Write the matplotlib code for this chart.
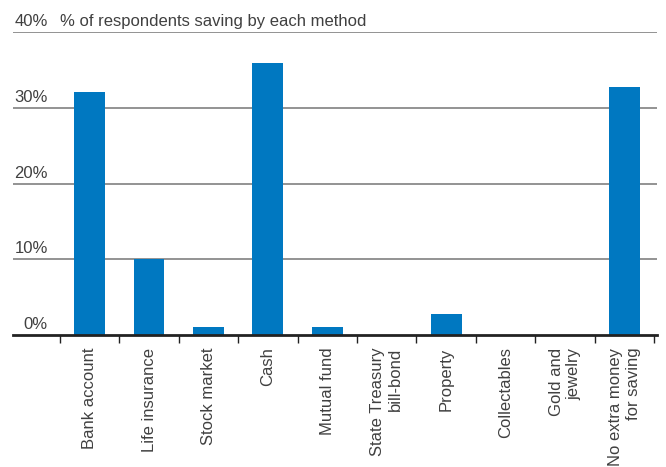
import matplotlib
matplotlib.use('Agg')
import matplotlib.pyplot as plt
import matplotlib.transforms as mtransforms
import numpy as np

plt.rcParams['font.family'] = ['Liberation Sans', 'DejaVu Sans']

categories = ['Bank account', 'Life insurance', 'Stock market', 'Cash', 'Mutual fund',
              'State Treasury\nbill-bond', 'Property', 'Collectables', 'Gold and\njewelry',
              'No extra money\nfor saving']
values = [32.1, 10.0, 1.0, 35.9, 1.0, 0.0, 2.8, 0.0, 0.0, 32.8]
y_ticks = [0, 10, 20, 30, 40]
y_labels = ['0%', '10%', '20%', '30%', '40%']
title = '% of respondents saving by each method'

bar_color = '#0078c1'
text_color = '#404040'

fig = plt.figure(figsize=(6.66, 4.67), dpi=100)
ax = fig.add_axes([13 / 666, 1 - 335 / 467, 644 / 666, (335 - 32) / 467])

x = np.arange(len(categories))
ax.bar(x + 0.0, values, width=0.52, color=bar_color, zorder=3)

ax.set_xlim(-1.29, 9.55)
ax.set_ylim(0, 40)

for s in ['top', 'right', 'left']:
    ax.spines[s].set_visible(False)
ax.spines['bottom'].set_linewidth(2)
ax.spines['bottom'].set_color('#222222')
ax.spines['bottom'].set_zorder(4)

# gridlines
for t in y_ticks[1:]:
    ax.axhline(t, color='#808080', lw=1.2, zorder=1)
ax.set_yticks([])

# y labels above gridlines
trans = mtransforms.blended_transform_factory(ax.transAxes, ax.transData)
off = mtransforms.offset_copy(trans, fig=fig, x=0, y=3, units='dots')
for t, lab in zip(y_ticks, y_labels):
    ax.text(35 / 644, t, lab, transform=off, ha='right', va='bottom',
            fontsize=12, color=text_color)
ax.text(47 / 644, 40, title, transform=off, ha='left', va='bottom',
        fontsize=12, color=text_color)

# ticks at boundaries, labels at centres
ax.set_xticks(np.arange(-0.5, len(categories), 1.0))
ax.set_xticklabels([])
ax.tick_params(axis='x', which='major', length=6, width=1, color='#222222')
ax.set_xticks(x, minor=True)
ax.set_xticklabels(categories, minor=True, rotation=90, va='top', ha='center',
                   multialignment='right', fontsize=12, color=text_color)
ax.tick_params(axis='x', which='minor', length=0, pad=9)

fig.savefig('out.png', dpi=100)
